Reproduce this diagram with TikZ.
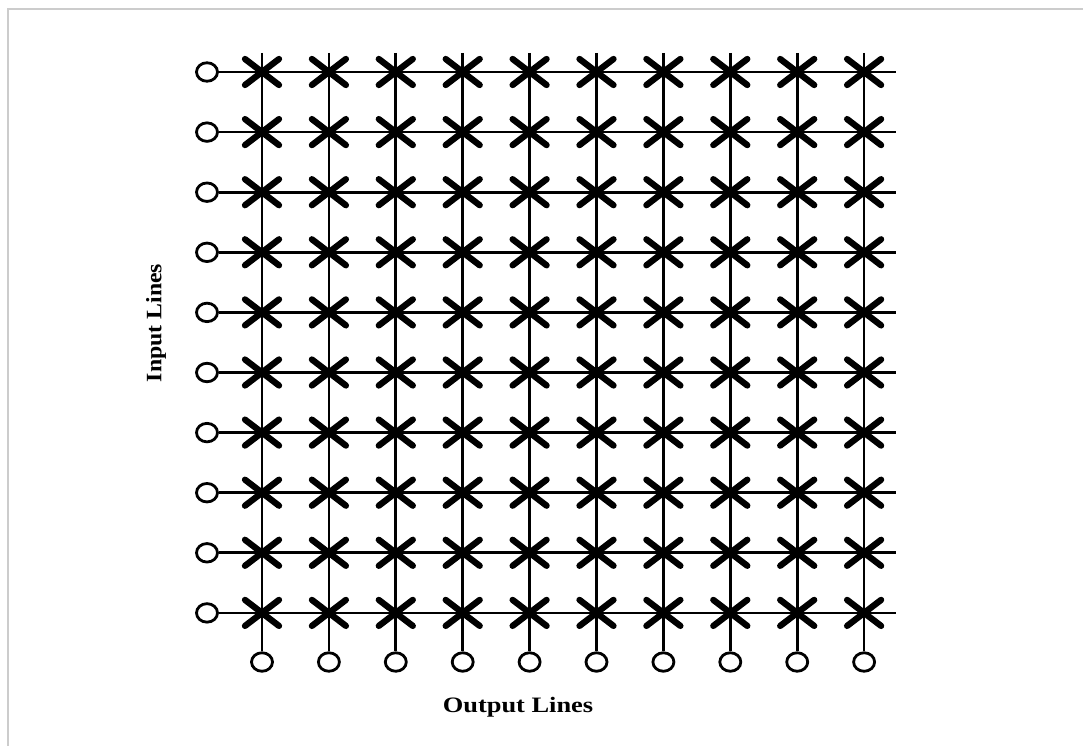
\documentclass[tikz,border=0pt]{standalone}
\usepackage{graphicx}
\usepackage{fontspec}
\setmainfont{Liberation Serif}
\usetikzlibrary{shapes.geometric}
\begin{document}
\begin{tikzpicture}[x=1pt,y=-1pt,
  port/.style={ellipse,draw,line width=2.8pt,minimum width=21pt,minimum height=18.5pt,inner sep=0pt,fill=white},
  wire/.style={line width=2.7pt},
  cross/.style={line width=6.3pt,line cap=round},
  lbl/.style={font=\bfseries\fontsize{22}{24}\selectfont,inner sep=0pt}]
\useasboundingbox (0,0) rectangle (1083,746);
\draw[black!20,line width=1.5pt] (1083,9) -- (8,9) -- (8,746);
\foreach \i in {1,...,10} {
  \pgfmathsetmacro\yy{72+60.1*(\i-1)}
  \node[port] (in\i) at (207,\yy) {};
  \coordinate (re\i) at (896,\yy);
  \draw[wire] (in\i) -- (re\i);
}
\foreach \j in {1,...,10} {
  \pgfmathsetmacro\xx{262+66.9*(\j-1)}
  \node[port] (out\j) at (\xx,662) {};
  \coordinate (top\j) at (\xx,53);
  \draw[wire] (top\j) -- (out\j);
}
\foreach \i in {1,...,10} {
  \foreach \j in {1,...,10} {
    \pgfmathsetmacro\yy{72+60.1*(\i-1)}
    \pgfmathsetmacro\xx{262+66.9*(\j-1)}
    \coordinate (c-\i-\j) at (\xx,\yy);
    \draw[cross] ([shift={(-17,-13)}]c-\i-\j) -- ([shift={(17,13)}]c-\i-\j);
    \draw[cross] ([shift={(-17,13)}]c-\i-\j) -- ([shift={(17,-13)}]c-\i-\j);
  }
}
\node[lbl,rotate=90] (inl) at (156,323) {\scalebox{1.08}[1]{Input Lines}};
\node[lbl,anchor=base] (outl) at (518,712) {\scalebox{1.2}[1]{Output Lines}};
\end{tikzpicture}
\end{document}
